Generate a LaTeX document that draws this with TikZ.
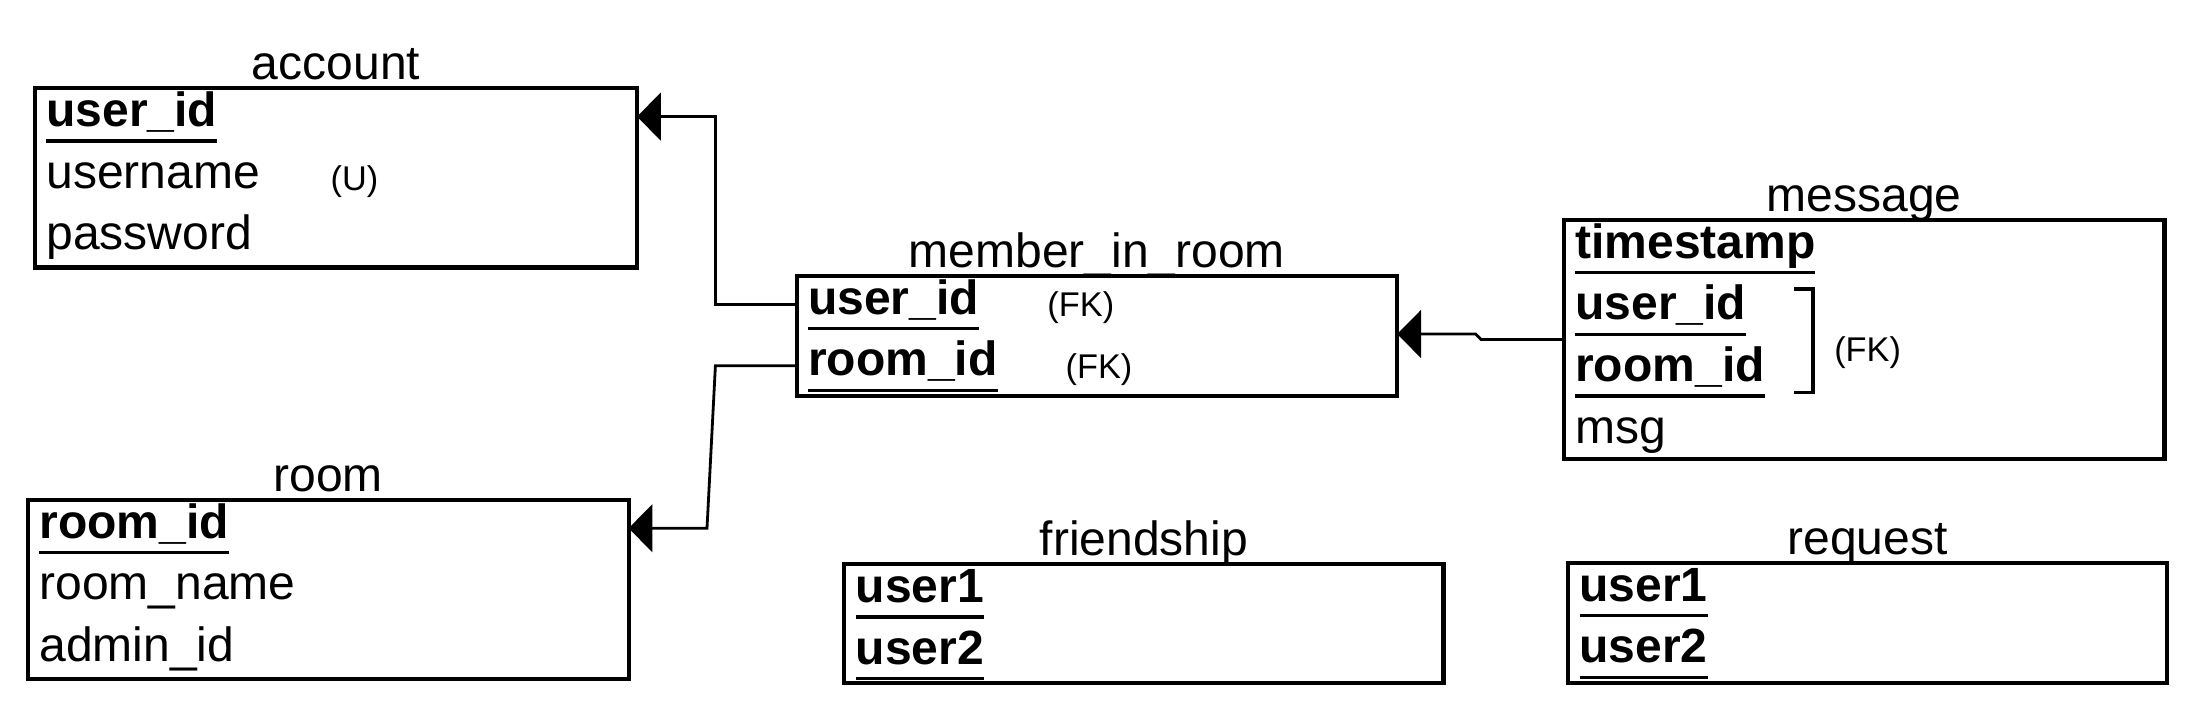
\documentclass[tikz,border=0pt]{standalone}
\usepackage{fontspec}
\setmainfont{Liberation Sans}
\usetikzlibrary{arrows.meta}

\newcommand\pkfield[1]{\setbox0\hbox{\bfseries #1}\rlap{\copy0}\rule[-11.5pt]{\wd0}{2.5pt}}

\begin{document}
\begin{tikzpicture}[x=1pt,y=-1pt,
    tbl/.style={draw, line width=3pt, inner sep=0pt, outer sep=0pt},
    tname/.style={anchor=base, inner sep=0pt, font=\fontsize{34.3}{40}\selectfont},
    fld/.style={anchor=west, inner sep=0pt, text height=26.4pt, text depth=12pt, font=\fontsize{34.3}{40}\selectfont},
    note/.style={anchor=west, inner sep=0pt, text height=17.4pt, text depth=0pt, font=\fontsize{24.5}{28}\selectfont},
    fk/.style={line width=2pt, -{Triangle[length=17pt,width=34pt]}}]
  \useasboundingbox (0,0) rectangle (1568.57,508.57);

  % tables
  \node[tbl, minimum width=430pt, minimum height=128pt] (account) at (240,127) {};
  \node[tbl, minimum width=429pt, minimum height=86pt] (mir) at (783.5,240) {};
  \node[tbl, minimum width=429pt, minimum height=171pt] (message) at (1331.5,242.5) {};
  \node[tbl, minimum width=429pt, minimum height=128pt] (room) at (234.5,421) {};
  \node[tbl, minimum width=428pt, minimum height=85pt] (friendship) at (817,445.5) {};
  \node[tbl, minimum width=428pt, minimum height=86pt] (request) at (1334,445) {};

  \node[tname] (account-t) at ([yshift=6pt]account.north) {account};
  \node[tname] (mir-t) at ([yshift=6pt]mir.north) {member\_in\_room};
  \node[tname] (message-t) at ([yshift=6pt]message.north) {message};
  \node[tname] (room-t) at ([yshift=6pt]room.north) {room};
  \node[tname] (friendship-t) at ([yshift=6pt]friendship.north) {friendship};
  \node[tname] (request-t) at ([yshift=6pt]request.north) {request};

  % fields
  \node[fld] (account-user) at (33,83.3) {\pkfield{user\_id}};
  \node[fld] (account-name) at (33,127.3) {username};
  \node[fld] (account-pass) at (33,171.3) {password};
  \node[note] (account-u) at (236,127.3) {(U)};

  \node[fld] (mir-user) at (577,217.3) {\pkfield{user\_id}};
  \node[fld] (mir-room) at (577,261.3) {\pkfield{room\_id}};
  \node[note] (mir-fk1) at (748,217.3) {(FK)};
  \node[note] (mir-fk2) at (761,261.3) {(FK)};

  \node[fld] (message-time) at (1125,177.3) {\pkfield{timestamp}};
  \node[fld] (message-user) at (1125,221.3) {\pkfield{user\_id}};
  \node[fld] (message-room) at (1125,265.3) {\pkfield{room\_id}};
  \node[fld] (message-msg) at (1125,309.3) {msg};
  \node[note] (message-fk) at (1310,249.5) {(FK)};
  \draw[line width=2.4pt] (1281.5,206.4) -| (1295,280.5) -- (1281.5,280.5);

  \node[fld] (room-id) at (28,377.3) {\pkfield{room\_id}};
  \node[fld] (room-name) at (28,421.3) {room\_name};
  \node[fld] (room-admin) at (28,465.3) {admin\_id};

  \node[fld] (friendship-u1) at (611,423.3) {\pkfield{user1}};
  \node[fld] (friendship-u2) at (611,467.3) {\pkfield{user2}};

  \node[fld] (request-u1) at (1128,422.3) {\pkfield{user1}};
  \node[fld] (request-u2) at (1128,466.3) {\pkfield{user2}};

  % references
  \coordinate (j1) at (511,0);
  \coordinate (j2) at (505,0);
  \coordinate (k1) at (1058,242.5);
  \coordinate (k2) at (1054,238.6);
  \draw[fk] (mir.west |- mir-user) -- (j1 |- mir-user) -- (j1 |- account-user) -- (account.east |- account-user);
  \draw[fk] (mir.west |- mir-room) -- (j1 |- mir-room) -- (j2 |- room-id) -- (room.east |- room-id);
  \draw[fk] (message.west) -- (k1) -- (k2) -- (mir.east |- k2);
\end{tikzpicture}
\end{document}
